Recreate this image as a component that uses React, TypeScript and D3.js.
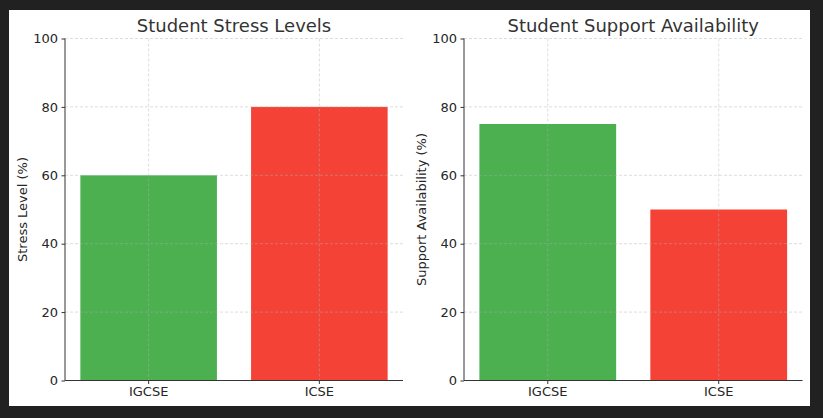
import { useRef, useEffect } from "react";
import * as d3 from "d3";

const categories = ["IGCSE", "ICSE"];
const stressValues = [60, 80];
const supportValues = [75, 50];
const yTicks = [0, 20, 40, 60, 80, 100];
const barColors = ["#4caf50", "#f44336"];

const panels = [
  { title: "Student Stress Levels", ylabel: "Stress Level (%)", values: stressValues, left: 65, right: 403 },
  { title: "Student Support Availability", ylabel: "Support Availability (%)", values: supportValues, left: 464, right: 802.5 },
];

const App = () => {
  const svgRef = useRef<SVGSVGElement | null>(null);

  useEffect(() => {
    const svg = d3.select(svgRef.current);
    svg.selectAll("*").remove();

    svg.append("rect").attr("width", 823).attr("height", 418).attr("fill", "#212121");
    svg.append("rect").attr("x", 9).attr("y", 10).attr("width", 801).attr("height", 396).attr("fill", "#fff");

    const top = 38.5;
    const bottom = 380.5;
    const font = "DejaVu Sans, sans-serif";

    panels.forEach((p) => {
      const x = d3.scaleLinear().domain([-0.49, 1.49]).range([p.left, p.right]);
      const y = d3.scaleLinear().domain([0, 100]).range([bottom, top]);
      const g = svg.append("g");

      // bars
      g.selectAll(".bar")
        .data(p.values)
        .join("rect")
        .attr("x", (_, i) => x(i - 0.4))
        .attr("y", (d) => y(d))
        .attr("width", x(0.4) - x(-0.4))
        .attr("height", (d) => bottom - y(d))
        .attr("fill", (_, i) => barColors[i]);

      // grid
      g.selectAll(".hgrid")
        .data(yTicks)
        .join("line")
        .attr("x1", p.left).attr("x2", p.right)
        .attr("y1", (d) => y(d)).attr("y2", (d) => y(d))
        .attr("stroke", "#b0b0b0").attr("stroke-opacity", 0.55)
        .attr("stroke-width", 0.8).attr("stroke-dasharray", "3,2");
      g.selectAll(".vgrid")
        .data(categories)
        .join("line")
        .attr("x1", (_, i) => x(i)).attr("x2", (_, i) => x(i))
        .attr("y1", top).attr("y2", bottom)
        .attr("stroke", "#b0b0b0").attr("stroke-opacity", 0.55)
        .attr("stroke-width", 0.8).attr("stroke-dasharray", "3,2");

      // axes
      const yAxis = d3.axisLeft(y).tickValues(yTicks).tickSize(3.5).tickPadding(3.5);
      const ya = g.append("g").attr("transform", `translate(${p.left},0)`).call(yAxis);
      ya.select(".domain").remove();
      ya.append("line").attr("x1", 0).attr("x2", 0).attr("y1", top).attr("y2", bottom)
        .attr("stroke", "#333").attr("stroke-width", 1);

      const xa = g.append("g").attr("transform", `translate(0,${bottom})`);
      xa.append("line").attr("x1", p.left).attr("x2", p.right).attr("stroke", "#333").attr("stroke-width", 1);
      categories.forEach((c, i) => {
        xa.append("line").attr("x1", x(i)).attr("x2", x(i)).attr("y1", 0).attr("y2", 3.5).attr("stroke", "#333");
        xa.append("text").attr("x", x(i)).attr("y", 15.5).attr("text-anchor", "middle")
          .attr("font-family", font).attr("font-size", 13).attr("fill", "#262626").text(c);
      });

      ya.selectAll(".tick line").attr("stroke", "#333");
      ya.selectAll(".tick text").attr("font-family", font).attr("font-size", 13).attr("fill", "#262626");

      // title
      g.append("text").attr("x", (p.left + p.right) / 2).attr("y", 32).attr("text-anchor", "middle")
        .attr("font-family", font).attr("font-size", 18).attr("fill", "#333").text(p.title);

      // y label
      g.append("text")
        .attr("transform", `translate(${p.left - 38},${(top + bottom) / 2}) rotate(-90)`)
        .attr("text-anchor", "middle")
        .attr("font-family", font).attr("font-size", 13).attr("fill", "#262626").text(p.ylabel);
    });
  }, []);

  return <svg ref={svgRef} width={823} height={418} style={{ position: "absolute", left: 0, top: 0 }} />;
};

export default App;
